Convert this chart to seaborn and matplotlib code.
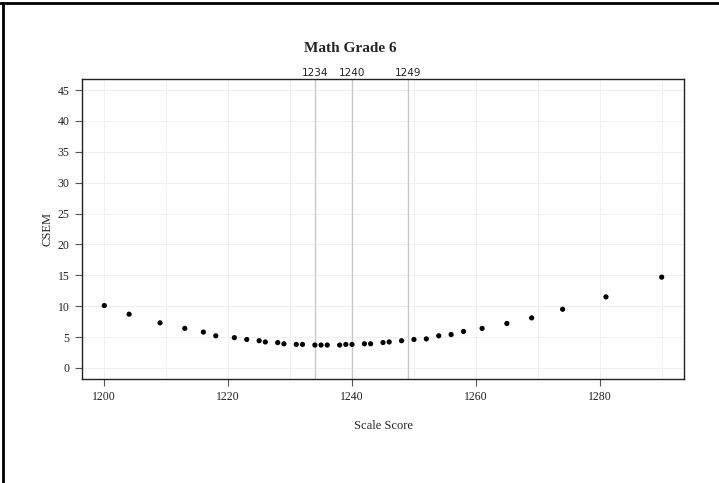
import matplotlib
matplotlib.use("Agg")
import matplotlib.pyplot as plt
import seaborn as sns
import pandas as pd

# Conditional standard error of measurement by scale score
scale_score = [1200, 1204, 1209, 1213, 1216, 1218, 1221, 1223, 1225, 1226,
               1228, 1229, 1231, 1232, 1234, 1235, 1236, 1238, 1239, 1240,
               1242, 1243, 1245, 1246, 1248, 1250, 1252, 1254, 1256, 1258,
               1261, 1265, 1269, 1274, 1281, 1290]
csem = [10.1, 8.7, 7.3, 6.4, 5.8, 5.2, 4.9, 4.6, 4.4, 4.2,
        4.1, 3.9, 3.8, 3.8, 3.7, 3.7, 3.7, 3.7, 3.8, 3.8,
        3.9, 3.9, 4.1, 4.2, 4.4, 4.6, 4.7, 5.2, 5.4, 5.9,
        6.4, 7.2, 8.1, 9.5, 11.5, 14.7]

# Performance-level cut scores
cut_scores = [1234, 1240, 1249]

x_ticks = [1200, 1220, 1240, 1260, 1280]
y_ticks = [0, 5, 10, 15, 20, 25, 30, 35, 40, 45]

df = pd.DataFrame({"Scale Score": scale_score, "CSEM": csem})

sns.set_style("white")
plt.rcParams["font.family"] = ["DejaVu Sans"]

fig = plt.figure(figsize=(7.19, 4.83), dpi=100)
ax = fig.add_axes([82 / 719, 1 - 379 / 483, (684 - 82) / 719, (379 - 79) / 483])

# light background grid
for gx in range(1200, 1300, 10):
    ax.axvline(gx, color="#f0f0f0", lw=0.8, zorder=0)
for gy in y_ticks:
    ax.axhline(gy, color="#f0f0f0", lw=0.8, zorder=0)

# cut-score reference lines
for c in cut_scores:
    ax.axvline(c, color="#c8c8c8", lw=1.0, zorder=1)

sns.scatterplot(data=df, x="Scale Score", y="CSEM", ax=ax, color="black",
                s=14, edgecolor="none", zorder=3, legend=False)

ax.set_xlim(1196.4, 1293.6)
ax.set_ylim(-1.8, 46.8)
ax.set_xticks(x_ticks)
ax.set_yticks(y_ticks)
ax.tick_params(axis="both", which="both", direction="out", length=5, width=0.8,
               color="#555555", pad=4, labelcolor="#222222",
               bottom=True, left=True, top=False, right=False)
for lbl in ax.get_xticklabels() + ax.get_yticklabels():
    lbl.set_family("Liberation Serif")
    lbl.set_fontsize(8.5)

for sp in ax.spines.values():
    sp.set_color("#222222")
    sp.set_linewidth(1.0)

# cut-score labels above the panel
sec = ax.secondary_xaxis("top")
sec.set_xticks(cut_scores)
sec.set_xticklabels([str(c) for c in cut_scores], fontsize=7.5, color="#222222")
sec.tick_params(length=0, pad=0.5)
sec.spines["top"].set_visible(False)

ax.set_xlabel("Scale Score", family="Liberation Serif", fontsize=9, labelpad=12)
ax.set_ylabel("CSEM", family="Liberation Serif", fontsize=9, labelpad=3)
fig.text(350 / 719, 1 - 48 / 483, "Math Grade 6", family="Liberation Serif",
         fontweight="bold", fontsize=11, ha="center", va="center")

# page border lines
fig.add_artist(plt.Line2D([0, 1], [1 - 3 / 483, 1 - 3 / 483], color="black", lw=2,
                          transform=fig.transFigure))
fig.add_artist(plt.Line2D([3 / 719, 3 / 719], [0, 1 - 3 / 483], color="black", lw=2,
                          transform=fig.transFigure))

fig.savefig("out.png", dpi=100)
